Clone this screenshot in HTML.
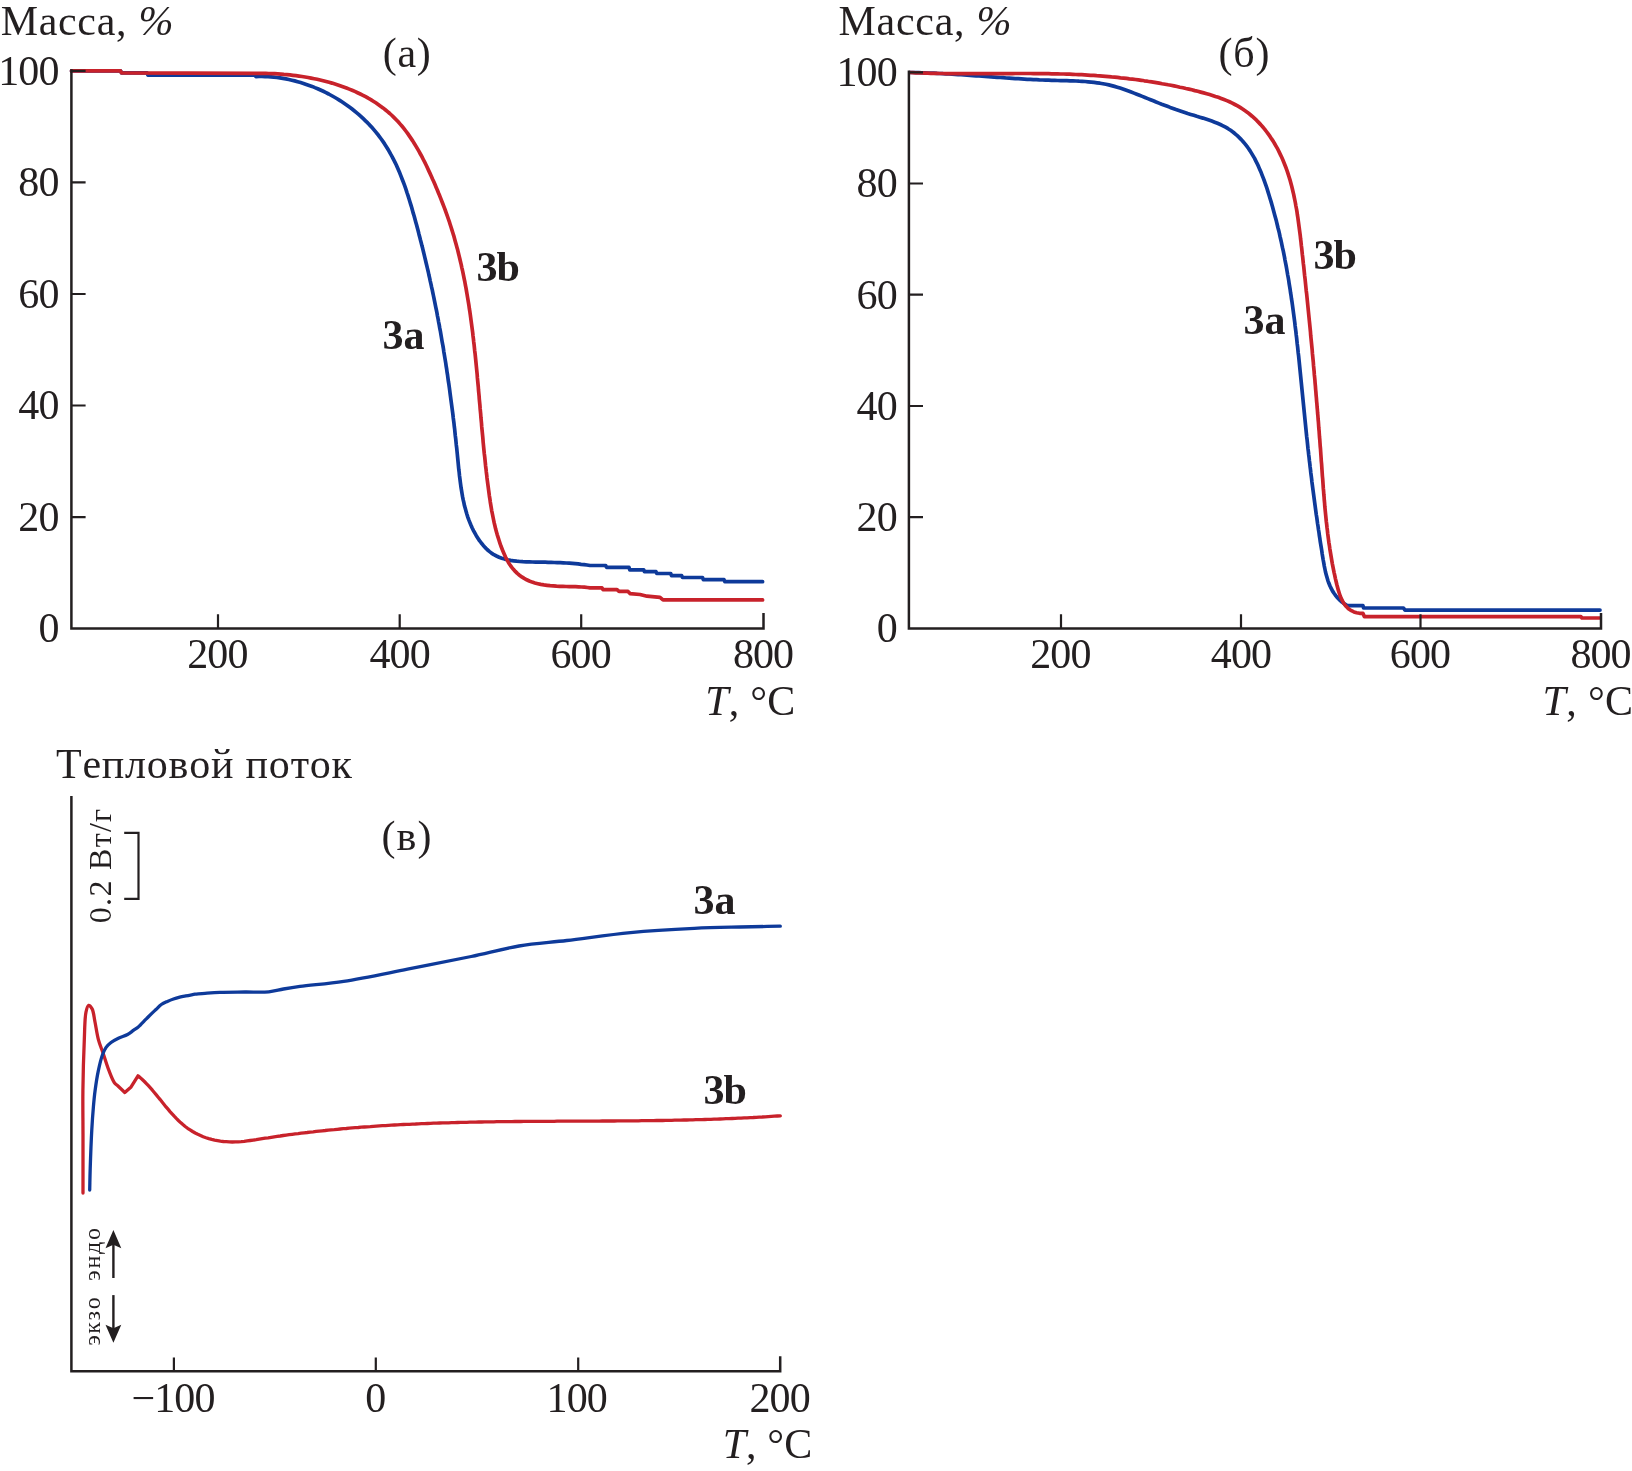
<!DOCTYPE html>
<html><head><meta charset="utf-8"><style>
html,body{margin:0;padding:0;background:#fff;}
body{width:1632px;height:1471px;overflow:hidden;}
svg{display:block;will-change:transform;}
text{font-family:"Liberation Serif",serif;fill:#231f20;font-kerning:none;}
.ax{stroke:#231f20;stroke-width:2.5;fill:none;stroke-linecap:square;}
.tk{stroke:#231f20;stroke-width:2.2;fill:none;}
.bl{stroke:#0e3a9a;stroke-width:3.7;fill:none;stroke-linejoin:round;stroke-linecap:round;}
.rd{stroke:#c8222b;stroke-width:3.7;fill:none;stroke-linejoin:round;stroke-linecap:round;}
</style></head><body>
<svg width="1632" height="1471" viewBox="0 0 1632 1471">
<path class="bl" d="M71.5 70.9 L120.5 70.9 L121.5 72.9 L147 72.9 L148 75.2 L255 75.2 L256 76.6 L256 76.6 L259 76.5 L262 76.5 L265 76.6 L268 76.7 L270.9 76.9 L273.9 77.2 L276.9 77.5 L279.9 77.9 L282.9 78.4 L285.9 78.9 L288.8 79.5 L291.8 80.2 L294.7 80.9 L297.6 81.7 L300.6 82.5 L303.5 83.4 L306.3 84.4 L309.2 85.4 L312.1 86.4 L314.9 87.6 L317.7 88.7 L320.5 90 L323.3 91.3 L326 92.6 L328.7 94 L331.4 95.5 L334.1 97 L336.7 98.5 L339.3 100.1 L341.9 101.8 L344.4 103.5 L346.9 105.2 L349.4 107 L351.8 108.8 L354.2 110.7 L356.5 112.6 L358.9 114.6 L361.1 116.6 L363.3 118.7 L365.5 120.8 L367.7 122.9 L369.7 125.1 L371.8 127.3 L373.8 129.6 L375.7 131.9 L377.6 134.2 L379.4 136.6 L381.2 139 L382.9 141.4 L384.6 143.9 L386.2 146.4 L387.8 149 L389.3 151.6 L390.7 154.2 L392.2 156.8 L393.5 159.4 L394.9 162.1 L396.2 164.8 L397.4 167.6 L398.6 170.3 L399.8 173.1 L400.9 175.9 L402 178.7 L403.1 181.5 L404.2 184.4 L405.2 187.2 L406.2 190.1 L407.1 193 L408.1 195.9 L409 198.8 L409.9 201.7 L410.8 204.6 L411.7 207.5 L412.5 210.4 L413.3 213.4 L414.2 216.3 L415 219.3 L415.8 222.2 L416.6 225.1 L417.4 228.1 L418.2 231 L418.9 233.9 L419.7 236.9 L420.4 239.8 L421.2 242.7 L421.9 245.6 L422.7 248.6 L423.4 251.5 L424.1 254.4 L424.8 257.4 L425.5 260.3 L426.2 263.2 L426.9 266.2 L427.6 269.1 L428.3 272 L428.9 275 L429.6 277.9 L430.2 280.8 L430.9 283.8 L431.5 286.7 L432.2 289.6 L432.8 292.6 L433.4 295.5 L434 298.4 L434.6 301.4 L435.2 304.3 L435.8 307.3 L436.4 310.2 L437 313.2 L437.5 316.1 L438.1 319 L438.6 322 L439.2 324.9 L439.7 327.9 L440.3 330.8 L440.8 333.8 L441.3 336.8 L441.8 339.7 L442.3 342.7 L442.9 345.6 L443.4 348.6 L443.8 351.6 L444.3 354.5 L444.8 357.5 L445.3 360.5 L445.8 363.5 L446.2 366.4 L446.7 369.4 L447.1 372.4 L447.6 375.4 L448 378.4 L448.4 381.4 L448.9 384.4 L449.3 387.3 L449.7 390.3 L450.1 393.4 L450.5 396.4 L450.9 399.4 L451.3 402.4 L451.7 405.4 L452.1 408.4 L452.5 411.4 L452.9 414.5 L453.2 417.5 L453.6 420.5 L454 423.6 L454.3 426.6 L454.7 429.6 L455 432.7 L455.3 435.7 L455.7 438.8 L456 441.9 L456.3 444.9 L456.7 448 L457 451.1 L457.3 454.1 L457.6 457.2 L457.9 460.3 L458.2 463.4 L458.5 466.5 L458.8 469.6 L459.2 472.6 L459.5 475.7 L459.9 478.8 L460.3 481.9 L460.7 484.9 L461.1 487.9 L461.6 490.9 L462.1 494 L462.6 496.9 L463.2 499.9 L463.9 502.8 L464.5 505.8 L465.3 508.6 L466.1 511.5 L466.9 514.3 L467.8 517.1 L468.8 519.9 L469.9 522.6 L471 525.3 L472.2 528 L473.5 530.6 L474.9 533.2 L476.3 535.7 L477.9 538.2 L479.5 540.6 L481.3 543 L483.1 545.2 L485 547.4 L487.1 549.5 L489.3 551.4 L491.5 553.1 L493.9 554.7 L496.5 556 L499.1 557.2 L501.8 558.2 L504.7 559.1 L507.6 559.8 L510.6 560.4 L513.6 560.8 L516.7 561.2 L519.8 561.5 L523 561.7 L526.2 561.8 L529.4 561.9 L532.5 562 L535.7 562.1 L538.8 562.1 L542 562.2 L545.1 562.2 L548.1 562.3 L551.2 562.4 L554.2 562.5 L557.3 562.6 L560.3 562.7 L563.3 562.8 L566.3 563 L569.3 563.2 L572.3 563.4 L575.2 563.6 L578.2 563.9 L581.1 564.3 L584.1 564.6 L587 565 L590 565.5 L590 565.5 L605.7 565.5 L606.5 567.4 L629 567.4 L629.8 569.8 L643.7 569.8 L644.5 571.7 L656 571.7 L656.8 573.5 L670.7 573.5 L671.5 575.6 L681.7 575.6 L682.5 577.5 L702.5 577.5 L703.3 579.6 L724 579.6 L724.8 581.7 L762.6 581.7"/>
<path class="rd" d="M71.5 70.9 L120.5 70.9 L121.5 72.9 L254 73.3 L254 73.3 L256.9 73.3 L259.8 73.3 L262.8 73.3 L265.8 73.4 L268.7 73.5 L271.7 73.6 L274.7 73.7 L277.7 73.9 L280.8 74.1 L283.8 74.4 L286.8 74.6 L289.9 74.9 L292.9 75.3 L296 75.7 L299 76.1 L302 76.5 L305.1 77 L308.1 77.5 L311.1 78.1 L314.2 78.7 L317.2 79.3 L320.2 80 L323.2 80.7 L326.1 81.5 L329.1 82.3 L332 83.1 L335 84 L337.9 84.9 L340.8 85.9 L343.6 86.9 L346.5 88 L349.3 89.1 L352.1 90.2 L354.8 91.4 L357.6 92.7 L360.3 94 L363 95.3 L365.6 96.7 L368.2 98.2 L370.8 99.6 L373.3 101.2 L375.8 102.8 L378.2 104.5 L380.6 106.2 L383 107.9 L385.3 109.7 L387.6 111.6 L389.8 113.5 L392 115.5 L394.1 117.6 L396.2 119.7 L398.2 121.8 L400.2 124.1 L402.1 126.3 L404 128.6 L405.8 131 L407.6 133.4 L409.3 135.9 L411 138.4 L412.7 140.9 L414.3 143.5 L415.9 146.1 L417.4 148.7 L419 151.4 L420.4 154 L421.9 156.7 L423.3 159.5 L424.7 162.2 L426.1 165 L427.4 167.8 L428.7 170.6 L430 173.4 L431.3 176.2 L432.5 179 L433.8 181.8 L435 184.6 L436.2 187.4 L437.4 190.2 L438.5 193 L439.7 195.8 L440.8 198.7 L441.9 201.5 L443 204.3 L444.1 207.1 L445.2 210 L446.2 212.8 L447.2 215.6 L448.2 218.5 L449.2 221.3 L450.1 224.2 L451 227 L451.9 229.9 L452.8 232.8 L453.7 235.6 L454.5 238.5 L455.3 241.4 L456.1 244.3 L456.9 247.2 L457.7 250.1 L458.4 253 L459.1 255.9 L459.8 258.8 L460.5 261.7 L461.2 264.6 L461.8 267.6 L462.5 270.5 L463.1 273.4 L463.7 276.4 L464.3 279.3 L464.9 282.2 L465.4 285.2 L466 288.1 L466.5 291.1 L467 294 L467.5 297 L468 300 L468.5 302.9 L469 305.9 L469.4 308.9 L469.9 311.9 L470.3 314.8 L470.7 317.8 L471.1 320.8 L471.5 323.8 L471.9 326.8 L472.3 329.8 L472.7 332.8 L473 335.8 L473.4 338.8 L473.7 341.8 L474.1 344.8 L474.4 347.8 L474.7 350.8 L475.1 353.8 L475.4 356.8 L475.7 359.8 L476 362.8 L476.3 365.9 L476.6 368.9 L476.9 371.9 L477.2 374.9 L477.4 377.9 L477.7 381 L478 384 L478.3 387 L478.5 390 L478.8 393.1 L479.1 396.1 L479.3 399.1 L479.6 402.2 L479.9 405.2 L480.1 408.2 L480.4 411.3 L480.7 414.3 L480.9 417.3 L481.2 420.4 L481.5 423.4 L481.7 426.4 L482 429.5 L482.3 432.5 L482.6 435.5 L482.9 438.6 L483.1 441.6 L483.4 444.6 L483.7 447.7 L484 450.7 L484.3 453.7 L484.7 456.8 L485 459.8 L485.3 462.8 L485.6 465.9 L486 468.9 L486.3 471.9 L486.7 474.9 L487 478 L487.4 481 L487.8 484 L488.2 487 L488.6 490 L489 493.1 L489.4 496.1 L489.9 499.1 L490.3 502.1 L490.8 505.1 L491.3 508.1 L491.8 511.1 L492.4 514 L493 517 L493.6 520 L494.2 522.9 L494.9 525.8 L495.6 528.8 L496.4 531.7 L497.2 534.6 L498.1 537.4 L499 540.3 L499.9 543.1 L500.9 546 L502 548.8 L503.1 551.6 L504.3 554.3 L505.5 557 L506.9 559.7 L508.3 562.2 L509.9 564.7 L511.6 567.1 L513.4 569.3 L515.3 571.4 L517.3 573.4 L519.5 575.2 L521.8 576.9 L524.2 578.4 L526.7 579.8 L529.3 581 L532.1 582.1 L534.9 583 L537.8 583.7 L540.8 584.4 L543.9 584.9 L547 585.3 L550.1 585.7 L553.3 585.9 L556.5 586.2 L559.7 586.3 L562.9 586.4 L566.1 586.5 L569.3 586.6 L572.4 586.6 L575.5 586.7 L578.6 586.8 L581.5 587 L584.4 587.2 L587.3 587.5 L590 587.8 L590 587.8 L602 587.8 L603 589.6 L617 589.6 L619 591.4 L628 591.4 L630 593.6 L640 594.5 L647 596.2 L660 597.4 L663 599.9 L762.6 599.9"/>
<path class="bl" d="M909.8 72.5 L912.8 72.5 L915.9 72.6 L918.9 72.7 L921.9 72.8 L925 72.9 L928 73 L931 73.1 L934 73.2 L937 73.4 L940.1 73.5 L943.1 73.7 L946.1 73.8 L949.1 74 L952.1 74.2 L955.1 74.4 L958.1 74.6 L961.1 74.7 L964.1 75 L967.1 75.2 L970.1 75.4 L973.1 75.6 L976.1 75.8 L979.1 76 L982.1 76.2 L985.1 76.4 L988.2 76.7 L991.2 76.9 L994.2 77.1 L997.2 77.3 L1000.2 77.5 L1003.2 77.7 L1006.2 78 L1009.2 78.2 L1012.2 78.4 L1015.2 78.6 L1018.3 78.7 L1021.3 78.9 L1024.3 79.1 L1027.3 79.3 L1030.3 79.4 L1033.4 79.6 L1036.4 79.7 L1039.4 79.9 L1042.5 80 L1045.5 80.1 L1048.6 80.2 L1051.6 80.3 L1054.7 80.4 L1057.7 80.5 L1060.8 80.6 L1063.9 80.6 L1066.9 80.7 L1070 80.8 L1073 80.9 L1076.1 81 L1079.1 81.2 L1082.1 81.3 L1085.2 81.5 L1088.2 81.8 L1091.2 82.1 L1094.1 82.4 L1097.1 82.8 L1100 83.2 L1103 83.7 L1105.9 84.3 L1108.8 84.9 L1111.6 85.6 L1114.5 86.4 L1117.3 87.2 L1120.1 88.1 L1122.9 89 L1125.7 90 L1128.5 91 L1131.2 92 L1134 93.1 L1136.8 94.2 L1139.5 95.3 L1142.3 96.4 L1145 97.5 L1147.8 98.6 L1150.6 99.7 L1153.3 100.8 L1156.1 102 L1158.9 103.1 L1161.7 104.2 L1164.5 105.2 L1167.4 106.3 L1170.2 107.4 L1173.1 108.4 L1176 109.5 L1178.9 110.5 L1181.8 111.5 L1184.8 112.5 L1187.7 113.5 L1190.7 114.4 L1193.8 115.3 L1196.8 116.3 L1199.8 117.2 L1202.9 118.1 L1205.9 119.1 L1208.9 120.1 L1211.8 121.1 L1214.7 122.2 L1217.5 123.3 L1220.3 124.5 L1223 125.8 L1225.6 127.2 L1228.1 128.7 L1230.6 130.3 L1232.9 132 L1235.1 133.8 L1237.3 135.7 L1239.3 137.6 L1241.3 139.6 L1243.2 141.8 L1245 143.9 L1246.8 146.2 L1248.5 148.5 L1250.1 150.9 L1251.6 153.4 L1253.1 155.9 L1254.6 158.4 L1255.9 161.1 L1257.2 163.7 L1258.5 166.4 L1259.7 169.2 L1260.9 171.9 L1262 174.8 L1263.1 177.6 L1264.2 180.5 L1265.2 183.3 L1266.2 186.2 L1267.2 189.2 L1268.1 192.1 L1269 195 L1269.9 198 L1270.8 200.9 L1271.7 203.9 L1272.5 206.8 L1273.3 209.8 L1274.1 212.7 L1274.9 215.7 L1275.7 218.6 L1276.5 221.6 L1277.2 224.5 L1277.9 227.5 L1278.7 230.4 L1279.4 233.4 L1280 236.4 L1280.7 239.3 L1281.4 242.3 L1282 245.3 L1282.6 248.2 L1283.3 251.2 L1283.9 254.2 L1284.5 257.1 L1285 260.1 L1285.6 263.1 L1286.2 266.1 L1286.7 269 L1287.2 272 L1287.7 275 L1288.3 278 L1288.8 281 L1289.2 283.9 L1289.7 286.9 L1290.2 289.9 L1290.6 292.9 L1291.1 295.9 L1291.5 298.9 L1292 301.9 L1292.4 304.8 L1292.8 307.8 L1293.2 310.8 L1293.6 313.8 L1294 316.8 L1294.4 319.8 L1294.8 322.8 L1295.1 325.8 L1295.5 328.8 L1295.9 331.8 L1296.2 334.8 L1296.6 337.8 L1296.9 340.8 L1297.2 343.8 L1297.6 346.8 L1297.9 349.8 L1298.2 352.8 L1298.6 355.8 L1298.9 358.8 L1299.2 361.8 L1299.5 364.8 L1299.8 367.8 L1300.1 370.8 L1300.4 373.8 L1300.7 376.8 L1301 379.8 L1301.3 382.8 L1301.6 385.8 L1301.9 388.8 L1302.2 391.8 L1302.5 394.8 L1302.8 397.8 L1303.1 400.8 L1303.4 403.8 L1303.7 406.8 L1304 409.8 L1304.3 412.8 L1304.6 415.8 L1304.9 418.8 L1305.2 421.8 L1305.5 424.8 L1305.8 427.8 L1306.1 430.8 L1306.4 433.8 L1306.7 436.8 L1307.1 439.8 L1307.4 442.8 L1307.7 445.8 L1308 448.8 L1308.4 451.8 L1308.7 454.8 L1309.1 457.7 L1309.4 460.7 L1309.8 463.7 L1310.1 466.7 L1310.5 469.7 L1310.8 472.7 L1311.2 475.7 L1311.6 478.7 L1311.9 481.7 L1312.3 484.7 L1312.7 487.7 L1313.1 490.7 L1313.5 493.7 L1313.9 496.7 L1314.3 499.7 L1314.7 502.7 L1315.1 505.7 L1315.5 508.8 L1315.9 511.8 L1316.3 514.8 L1316.8 517.8 L1317.2 520.8 L1317.6 523.8 L1318.1 526.8 L1318.5 529.8 L1319 532.8 L1319.4 535.9 L1319.9 538.9 L1320.3 541.9 L1320.8 544.9 L1321.3 547.9 L1321.8 551 L1322.2 554 L1322.7 557 L1323.2 560 L1323.8 563.1 L1324.3 566.1 L1324.9 569 L1325.5 572 L1326.3 574.9 L1327.1 577.8 L1327.9 580.6 L1328.9 583.3 L1330 586 L1331.3 588.6 L1332.6 591.1 L1334.2 593.5 L1335.9 595.8 L1337.7 598 L1339.8 600.1 L1342 602.1 L1344.5 603.9 L1347.2 605.6 L1347.2 605.6 L1362.9 605.6 L1363.6 608 L1403.5 608 L1405 610.1 L1600 610.1"/>
<path class="rd" d="M909.8 72.5 L912.8 72.6 L915.8 72.8 L918.8 72.9 L921.8 73 L924.8 73.1 L927.8 73.2 L930.8 73.3 L933.8 73.4 L936.8 73.4 L939.8 73.5 L942.8 73.5 L945.8 73.6 L948.9 73.6 L951.9 73.7 L954.9 73.7 L957.9 73.7 L960.9 73.7 L964 73.7 L967 73.7 L970 73.7 L973 73.7 L976 73.7 L979.1 73.7 L982.1 73.7 L985.1 73.7 L988.1 73.7 L991.2 73.7 L994.2 73.6 L997.2 73.6 L1000.3 73.6 L1003.3 73.6 L1006.3 73.6 L1009.3 73.6 L1012.4 73.6 L1015.4 73.5 L1018.4 73.5 L1021.4 73.5 L1024.5 73.5 L1027.5 73.5 L1030.5 73.5 L1033.5 73.6 L1036.6 73.6 L1039.6 73.6 L1042.6 73.6 L1045.6 73.7 L1048.6 73.7 L1051.6 73.8 L1054.7 73.8 L1057.7 73.9 L1060.7 74 L1063.7 74 L1066.7 74.1 L1069.7 74.2 L1072.7 74.3 L1075.7 74.5 L1078.7 74.6 L1081.7 74.7 L1084.7 74.9 L1087.7 75.1 L1090.7 75.3 L1093.7 75.4 L1096.7 75.7 L1099.7 75.9 L1102.6 76.1 L1105.6 76.3 L1108.6 76.6 L1111.6 76.9 L1114.6 77.1 L1117.5 77.4 L1120.5 77.8 L1123.5 78.1 L1126.5 78.4 L1129.4 78.8 L1132.4 79.1 L1135.4 79.5 L1138.4 79.9 L1141.3 80.3 L1144.3 80.8 L1147.3 81.2 L1150.2 81.7 L1153.2 82.1 L1156.2 82.6 L1159.2 83.1 L1162.1 83.7 L1165.1 84.2 L1168.1 84.8 L1171 85.3 L1174 85.9 L1177 86.5 L1179.9 87.2 L1182.9 87.8 L1185.9 88.5 L1188.9 89.1 L1191.8 89.8 L1194.8 90.6 L1197.8 91.3 L1200.7 92.1 L1203.7 92.9 L1206.7 93.7 L1209.6 94.5 L1212.5 95.4 L1215.4 96.4 L1218.3 97.3 L1221.2 98.4 L1224 99.5 L1226.8 100.6 L1229.5 101.8 L1232.3 103.1 L1234.9 104.5 L1237.6 105.9 L1240.1 107.4 L1242.6 109 L1245.1 110.7 L1247.5 112.4 L1249.8 114.3 L1252.1 116.2 L1254.3 118.2 L1256.5 120.2 L1258.6 122.4 L1260.7 124.6 L1262.6 126.8 L1264.6 129.1 L1266.4 131.5 L1268.2 133.9 L1270 136.4 L1271.6 138.9 L1273.3 141.4 L1274.8 144 L1276.3 146.6 L1277.8 149.2 L1279.1 151.9 L1280.4 154.6 L1281.7 157.3 L1282.9 160 L1284 162.7 L1285.1 165.5 L1286.2 168.3 L1287.2 171.1 L1288.1 173.9 L1289 176.8 L1289.9 179.6 L1290.7 182.5 L1291.5 185.4 L1292.2 188.3 L1292.9 191.2 L1293.6 194.1 L1294.2 197.1 L1294.8 200 L1295.4 203 L1295.9 206 L1296.5 209 L1297 211.9 L1297.4 214.9 L1297.9 218 L1298.3 221 L1298.7 224 L1299.1 227 L1299.5 230 L1299.9 233 L1300.3 236.1 L1300.6 239.1 L1301 242.1 L1301.3 245.2 L1301.7 248.2 L1302 251.2 L1302.3 254.2 L1302.7 257.3 L1303 260.3 L1303.3 263.3 L1303.7 266.3 L1304 269.3 L1304.3 272.3 L1304.6 275.3 L1305 278.4 L1305.3 281.4 L1305.6 284.4 L1305.9 287.4 L1306.2 290.4 L1306.6 293.4 L1306.9 296.4 L1307.2 299.4 L1307.5 302.4 L1307.8 305.4 L1308.1 308.4 L1308.4 311.4 L1308.7 314.4 L1309 317.4 L1309.3 320.4 L1309.6 323.3 L1309.9 326.3 L1310.2 329.3 L1310.5 332.3 L1310.7 335.3 L1311 338.3 L1311.3 341.3 L1311.6 344.3 L1311.9 347.3 L1312.2 350.3 L1312.4 353.2 L1312.7 356.2 L1313 359.2 L1313.3 362.2 L1313.5 365.2 L1313.8 368.2 L1314.1 371.2 L1314.3 374.2 L1314.6 377.1 L1314.9 380.1 L1315.1 383.1 L1315.4 386.1 L1315.6 389.1 L1315.9 392.1 L1316.1 395.1 L1316.4 398.1 L1316.6 401.1 L1316.9 404 L1317.1 407 L1317.4 410 L1317.6 413 L1317.9 416 L1318.1 419 L1318.4 422 L1318.6 425 L1318.8 428 L1319.1 431 L1319.3 434 L1319.5 437 L1319.8 440 L1320 443 L1320.2 446 L1320.5 449 L1320.7 452 L1320.9 455 L1321.1 458 L1321.3 461.1 L1321.6 464.1 L1321.8 467.1 L1322 470.1 L1322.2 473.1 L1322.4 476.1 L1322.7 479.1 L1322.9 482.2 L1323.1 485.2 L1323.3 488.2 L1323.6 491.2 L1323.8 494.3 L1324.1 497.3 L1324.3 500.3 L1324.6 503.3 L1324.8 506.3 L1325.1 509.4 L1325.4 512.4 L1325.7 515.4 L1326 518.4 L1326.3 521.5 L1326.7 524.5 L1327 527.5 L1327.4 530.5 L1327.7 533.5 L1328.1 536.5 L1328.5 539.6 L1328.9 542.6 L1329.4 545.6 L1329.8 548.6 L1330.3 551.6 L1330.8 554.6 L1331.3 557.6 L1331.8 560.6 L1332.3 563.6 L1332.9 566.6 L1333.5 569.6 L1334.1 572.6 L1334.8 575.6 L1335.4 578.6 L1336.1 581.5 L1336.8 584.5 L1337.6 587.5 L1338.4 590.4 L1339.3 593.2 L1340.2 596 L1341.3 598.7 L1342.6 601.2 L1343.9 603.5 L1345.5 605.7 L1347.3 607.6 L1349.2 609.3 L1351.4 610.7 L1353.9 611.9 L1356.6 612.7 L1359.6 613.3 L1362.9 613.4 L1362.9 613.4 L1364.4 616.6 L1580.9 616.6 L1582 618 L1600 618"/>
<path class="rd" style="stroke-width:3.3" d="M83.00 1193.00 C83.00 1173.33 83.02 1152.11 83.00 1134.00 C82.98 1118.54 82.71 1105.94 82.90 1091.00 C83.10 1074.72 83.66 1054.47 84.30 1040.00 C84.77 1029.27 84.66 1018.03 86.00 1012.00 C86.67 1008.97 87.44 1005.64 88.60 1005.40 C89.57 1005.20 91.16 1007.18 92.10 1008.90 C93.62 1011.67 93.95 1016.91 94.90 1021.50 C96.04 1026.98 96.90 1034.01 98.40 1039.60 C99.74 1044.59 101.55 1048.65 103.20 1053.50 C105.01 1058.81 106.80 1065.08 108.80 1070.20 C110.56 1074.71 112.44 1079.99 114.40 1082.70 C115.57 1084.32 116.80 1084.90 118.00 1086.00 L118 1086 L124.8 1092.5 L131.1 1086.9 L138 1075.8 L138 1075.8 L140.2 1077.6 L142.3 1079.5 L144.4 1081.5 L146.4 1083.6 L148.4 1085.7 L150.4 1087.9 L152.4 1090.2 L154.3 1092.5 L156.3 1094.9 L158.2 1097.2 L160.2 1099.6 L162.1 1102 L164.1 1104.5 L166 1106.9 L168 1109.2 L170 1111.6 L172.1 1113.9 L174.2 1116.2 L176.3 1118.4 L178.4 1120.5 L180.6 1122.6 L182.9 1124.6 L185.2 1126.5 L187.6 1128.3 L190.1 1129.9 L192.6 1131.5 L195.2 1133 L197.8 1134.3 L200.5 1135.5 L203.2 1136.7 L206 1137.7 L208.8 1138.6 L211.7 1139.4 L214.6 1140.1 L217.5 1140.6 L220.4 1141.1 L223.4 1141.5 L226.3 1141.7 L229.3 1141.9 L232.3 1142 L235.3 1141.9 L238.2 1141.8 L241.2 1141.6 L244.2 1141.3 L247.2 1140.9 L250.2 1140.5 L253.2 1140.1 L256.2 1139.7 L259.2 1139.2 L262.2 1138.7 L265.2 1138.2 L268.2 1137.8 L271.2 1137.3 L274.2 1136.8 L277.2 1136.4 L280.2 1136 L283.2 1135.5 L286.2 1135.1 L289.2 1134.7 L292.2 1134.3 L295.2 1133.9 L298.2 1133.6 L301.2 1133.2 L304.2 1132.8 L307.2 1132.5 L310.2 1132.1 L313.2 1131.8 L316.2 1131.4 L319.2 1131.1 L322.2 1130.8 L325.2 1130.5 L328.2 1130.1 L331.2 1129.8 L334.3 1129.6 L337.3 1129.3 L340.3 1129 L343.3 1128.7 L346.3 1128.5 L349.3 1128.2 L352.3 1127.9 L355.3 1127.7 L358.3 1127.5 L361.3 1127.2 L364.3 1127 L367.3 1126.8 L370.3 1126.6 L373.3 1126.3 L376.3 1126.1 L379.4 1125.9 L382.4 1125.7 L385.4 1125.6 L388.4 1125.4 L391.4 1125.2 L394.4 1125 L397.4 1124.9 L400.4 1124.7 L403.4 1124.5 L406.4 1124.4 L409.4 1124.3 L412.5 1124.1 L415.5 1124 L418.5 1123.8 L421.5 1123.7 L424.5 1123.6 L427.5 1123.5 L430.5 1123.4 L433.5 1123.2 L436.5 1123.1 L439.6 1123 L442.6 1122.9 L445.6 1122.8 L448.6 1122.8 L451.6 1122.7 L454.6 1122.6 L457.6 1122.5 L460.6 1122.4 L463.7 1122.4 L466.7 1122.3 L469.7 1122.2 L472.7 1122.2 L475.7 1122.1 L478.7 1122 L481.7 1122 L484.7 1121.9 L487.8 1121.9 L490.8 1121.8 L493.8 1121.8 L496.8 1121.7 L499.8 1121.7 L502.8 1121.7 L505.8 1121.6 L508.9 1121.6 L511.9 1121.6 L514.9 1121.5 L517.9 1121.5 L520.9 1121.5 L523.9 1121.4 L526.9 1121.4 L530 1121.4 L533 1121.4 L536 1121.4 L539 1121.3 L542 1121.3 L545 1121.3 L548.1 1121.3 L551.1 1121.3 L554.1 1121.3 L557.1 1121.2 L560.1 1121.2 L563.1 1121.2 L566.2 1121.2 L569.2 1121.2 L572.2 1121.2 L575.2 1121.2 L578.2 1121.1 L581.2 1121.1 L584.3 1121.1 L587.3 1121.1 L590.3 1121.1 L593.3 1121.1 L596.3 1121.1 L599.3 1121.1 L602.3 1121 L605.4 1121 L608.4 1121 L611.4 1121 L614.4 1121 L617.4 1120.9 L620.4 1120.9 L623.5 1120.9 L626.5 1120.9 L629.5 1120.9 L632.5 1120.8 L635.5 1120.8 L638.5 1120.8 L641.6 1120.7 L644.6 1120.7 L647.6 1120.7 L650.6 1120.6 L653.6 1120.6 L656.6 1120.5 L659.7 1120.5 L662.7 1120.5 L665.7 1120.4 L668.7 1120.3 L671.7 1120.3 L674.7 1120.2 L677.8 1120.2 L680.8 1120.1 L683.8 1120 L686.8 1120 L689.8 1119.9 L692.8 1119.8 L695.9 1119.7 L698.9 1119.7 L701.9 1119.6 L704.9 1119.5 L707.9 1119.4 L710.9 1119.3 L714 1119.2 L717 1119.1 L720 1119 L723 1118.9 L726 1118.7 L729 1118.6 L732.1 1118.5 L735.1 1118.4 L738.1 1118.2 L741.1 1118.1 L744.1 1117.9 L747.1 1117.8 L750.2 1117.6 L753.2 1117.5 L756.2 1117.3 L759.2 1117.1 L762.2 1117 L765.2 1116.8 L768.2 1116.6 L771.3 1116.4 L774.3 1116.2 L777.3 1116 L780.3 1115.8"/>
<path class="bl" style="stroke-width:3.3" d="M89.70 1190.00 C89.87 1182.93 89.94 1176.94 90.20 1168.80 C90.56 1157.74 91.17 1141.00 91.80 1129.70 C92.28 1121.05 92.79 1113.78 93.40 1106.80 C93.91 1100.90 94.34 1096.17 95.10 1090.50 C95.93 1084.26 97.00 1077.06 98.30 1070.90 C99.48 1065.29 100.83 1059.27 102.40 1055.00 C103.53 1051.94 104.57 1049.55 106.10 1047.40 C107.49 1045.45 109.09 1043.97 111.00 1042.50 C113.12 1040.87 115.75 1039.49 118.40 1038.20 C121.25 1036.81 124.92 1035.96 127.60 1034.50 C129.92 1033.24 131.84 1031.50 133.70 1030.20 C135.26 1029.11 136.41 1028.53 138.00 1027.20 C140.33 1025.25 143.51 1021.69 146.00 1019.20 C148.17 1017.03 150.28 1014.85 152.10 1013.10 C153.53 1011.73 154.60 1010.80 156.00 1009.50 C157.64 1007.97 159.36 1005.86 161.30 1004.50 C163.18 1003.18 165.34 1002.32 167.40 1001.40 C169.41 1000.50 171.44 999.70 173.50 999.00 C175.54 998.30 177.63 997.72 179.70 997.20 C181.73 996.69 183.56 996.35 185.80 995.90 C188.55 995.35 191.93 994.77 195.00 994.20 L195.00 994.20 C198.33 993.90 201.33 993.59 205.00 993.30 C209.47 992.95 214.29 992.52 219.90 992.30 C227.18 992.01 236.74 992.08 245.00 992.00 C253.04 991.92 261.84 992.49 268.80 991.80 C274.31 991.26 278.45 989.88 283.50 989.00 C288.83 988.07 293.17 987.34 300.00 986.40 C311.08 984.88 327.81 983.73 343.70 981.30 C363.01 978.35 386.25 973.33 407.50 969.20 C428.75 965.07 451.51 960.63 471.20 956.50 C488.29 952.92 503.00 948.67 519.00 946.00 C534.87 943.35 549.73 942.54 566.80 940.50 C586.52 938.14 609.23 934.62 630.50 932.60 C651.73 930.59 674.80 929.34 694.30 928.40 C710.79 927.60 725.24 927.37 740.00 927.00 C753.85 926.65 766.87 926.47 780.30 926.20"/>
<path class="ax" d="M71.4 70.39999999999998 V628.6 H763.5 V614.2"/>
<path class="tk" d="M71.4 517.1 H85.6 M71.4 405.5 H85.6 M71.4 294.0 H85.6 M71.4 182.4 H85.6 M71.4 70.9 H85.6 M218.0 628.6 V614.2 M399.7 628.6 V614.2 M581.2 628.6 V614.2"/>
<text x="38.40" y="642.20" font-size="42" letter-spacing="-0.90">0</text>
<text x="18.30" y="530.66" font-size="42" letter-spacing="-0.90">20</text>
<text x="18.30" y="419.12" font-size="42" letter-spacing="-0.90">40</text>
<text x="18.30" y="307.58" font-size="42" letter-spacing="-0.90">60</text>
<text x="18.30" y="196.04" font-size="42" letter-spacing="-0.90">80</text>
<text x="-1.80" y="84.50" font-size="42" letter-spacing="-0.90">100</text>
<text x="187.28" y="667.60" font-size="42" letter-spacing="-0.90">200</text>
<text x="369.49" y="667.60" font-size="42" letter-spacing="-0.90">400</text>
<text x="550.50" y="667.60" font-size="42" letter-spacing="-0.90">600</text>
<text x="732.90" y="667.60" font-size="42" letter-spacing="-0.90">800</text>
<text x="705.25" y="715.00" font-size="42" letter-spacing="0.22"><tspan font-style="italic">T</tspan>, °C</text>
<text x="0.63" y="34.90" font-size="42" letter-spacing="0.70">Масса, <tspan font-style="italic">%</tspan></text>
<text x="382.75" y="66.90" font-size="42" letter-spacing="0.64">(а)</text>
<text x="476.52" y="281.30" font-size="42" letter-spacing="-1.00"><tspan font-weight="bold">3b</tspan></text>
<text x="382.62" y="349.30" font-size="42"><tspan font-weight="bold">3a</tspan></text>
<path class="ax" d="M908.9 71.79999999999995 V628.4 H1601.0 V614.2"/>
<path class="tk" d="M908.9 517.2 H923 M908.9 406.0 H923 M908.9 294.7 H923 M908.9 183.5 H923 M908.9 72.3 H923 M1061.0 628.4 V614.2 M1241.0 628.4 V614.2 M1420.5 628.4 V614.2"/>
<text x="876.70" y="642.20" font-size="42" letter-spacing="-0.90">0</text>
<text x="856.60" y="530.98" font-size="42" letter-spacing="-0.90">20</text>
<text x="856.60" y="419.76" font-size="42" letter-spacing="-0.90">40</text>
<text x="856.60" y="308.54" font-size="42" letter-spacing="-0.90">60</text>
<text x="856.60" y="197.32" font-size="42" letter-spacing="-0.90">80</text>
<text x="836.50" y="86.10" font-size="42" letter-spacing="-0.90">100</text>
<text x="1030.28" y="667.80" font-size="42" letter-spacing="-0.90">200</text>
<text x="1210.79" y="667.80" font-size="42" letter-spacing="-0.90">400</text>
<text x="1389.80" y="667.80" font-size="42" letter-spacing="-0.90">600</text>
<text x="1570.40" y="667.80" font-size="42" letter-spacing="-0.90">800</text>
<text x="1542.55" y="715.00" font-size="42" letter-spacing="0.35"><tspan font-style="italic">T</tspan>, °C</text>
<text x="838.59" y="34.90" font-size="42" letter-spacing="0.70">Масса, <tspan font-style="italic">%</tspan></text>
<text x="1218.55" y="67.00" font-size="42" letter-spacing="0.77">(б)</text>
<text x="1313.52" y="269.40" font-size="42" letter-spacing="-1.00"><tspan font-weight="bold">3b</tspan></text>
<text x="1243.42" y="334.40" font-size="42"><tspan font-weight="bold">3a</tspan></text>
<path class="ax" d="M71.4 797.2 V1371.3 H780.2 V1357.5"/>
<path class="tk" d="M173.9 1371.3 V1357.5 M375.8 1371.3 V1357.5 M578.2 1371.3 V1357.5"/>
<text x="131.61" y="1411.50" font-size="42" letter-spacing="-0.97">−100</text>
<text x="365.30" y="1411.50" font-size="42" letter-spacing="-0.90">0</text>
<text x="546.55" y="1411.50" font-size="42" letter-spacing="-0.90">100</text>
<text x="749.48" y="1411.50" font-size="42" letter-spacing="-0.90">200</text>
<text x="722.65" y="1458.00" font-size="42" letter-spacing="0.10"><tspan font-style="italic">T</tspan>, °C</text>
<text x="55.94" y="777.70" font-size="42" letter-spacing="0.79">Тепловой поток</text>
<text x="381.45" y="849.70" font-size="42" letter-spacing="1.09">(в)</text>
<text x="693.52" y="914.20" font-size="42"><tspan font-weight="bold">3a</tspan></text>
<text x="703.52" y="1104.30" font-size="42" letter-spacing="-1.00"><tspan font-weight="bold">3b</tspan></text>
<text transform="translate(110.9 923.2) rotate(-90)" font-size="32" letter-spacing="1.3">0.2 Вт/г</text>
<path class="tk" d="M124.2 832.9 H138.5 V898.9 H124.2"/>
<text transform="translate(100.4 1280.7) rotate(-90)" font-size="24" letter-spacing="1.8">эндо</text>
<text transform="translate(100.4 1345.6) rotate(-90)" font-size="24" letter-spacing="1.6">экзо</text>
<path class="tk" d="M113.4 1244 V1278" style="stroke-width:2.4"/>
<path d="M113.4 1229.9 L121.3 1248.3 L113.4 1244.7 L105.5 1248.3 Z" fill="#231f20"/>
<path class="tk" d="M113.4 1295.1 V1329" style="stroke-width:2.4"/>
<path d="M113.4 1342.8 L121.3 1324.7 L113.4 1328.2 L105.5 1324.7 Z" fill="#231f20"/>
</svg>
</body></html>
